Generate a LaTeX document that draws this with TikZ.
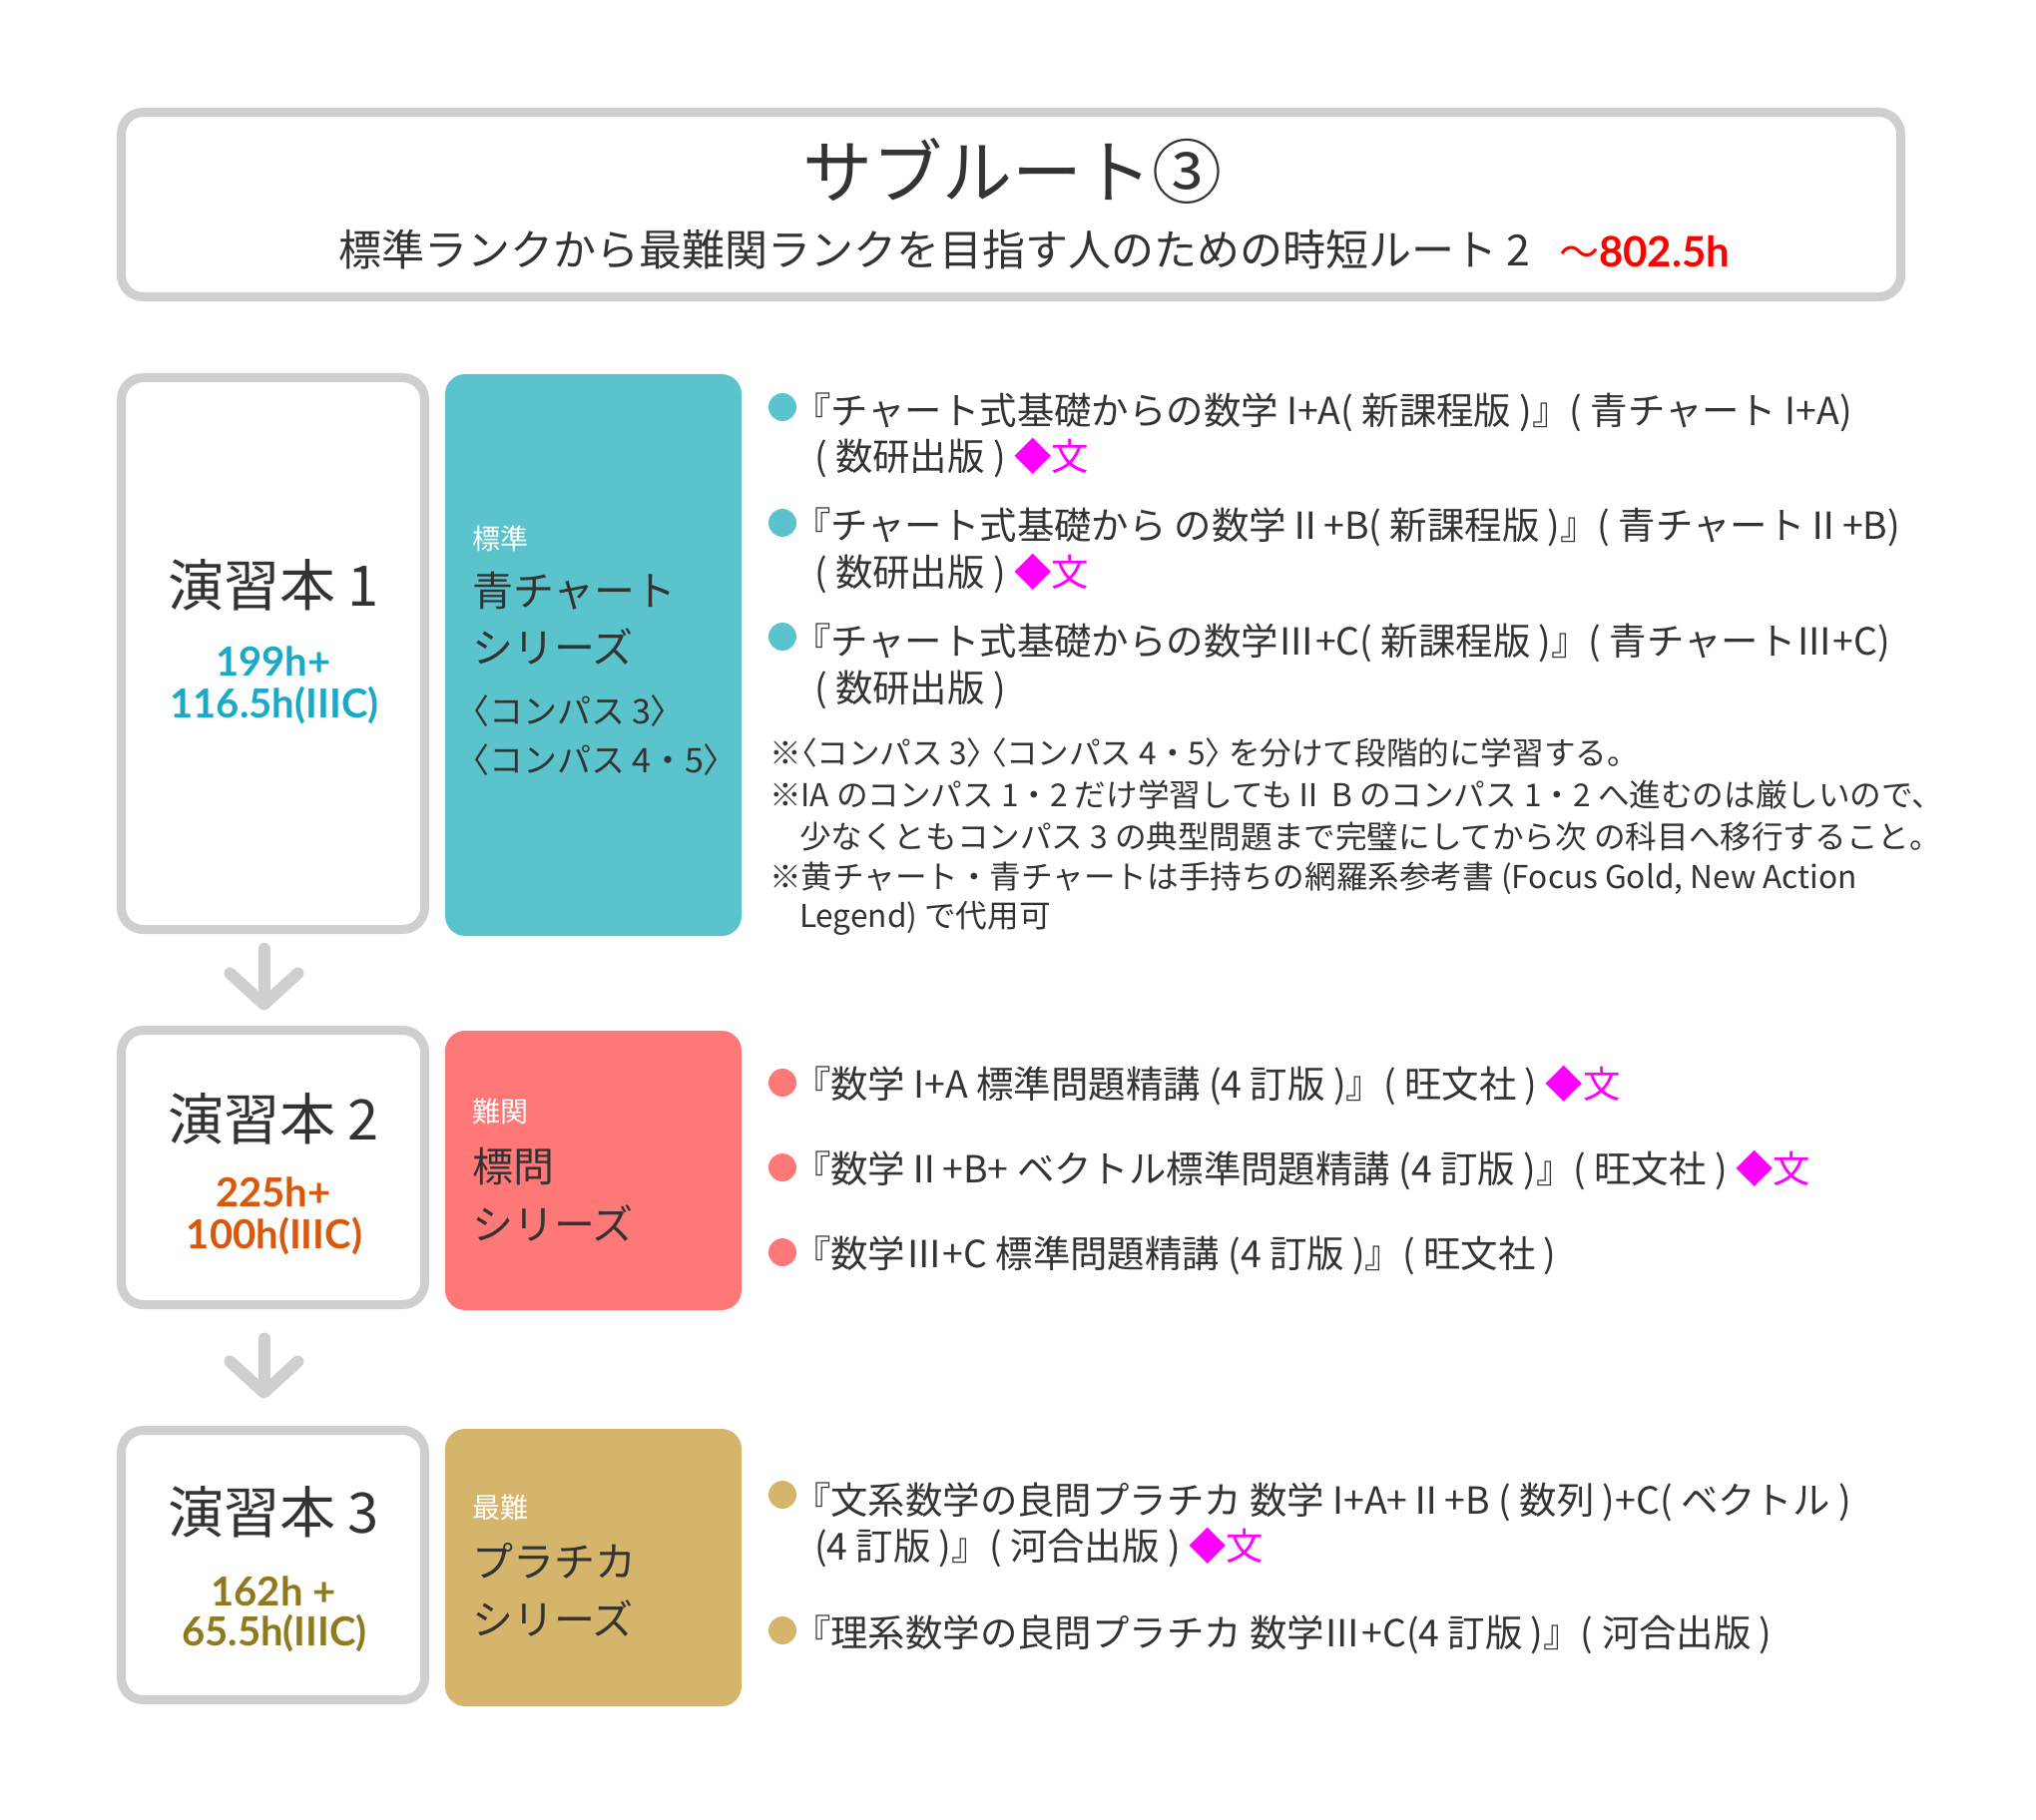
\documentclass[tikz,border=0pt]{standalone}
\usepackage{fontspec}
\setmainfont{Noto Sans CJK JP}
\newfontfamily\latofont{Lato}
\usetikzlibrary{arrows.meta}
\definecolor{gb}{HTML}{CFCFCF}
\definecolor{tx}{HTML}{333333}
\definecolor{tealbox}{HTML}{5BC3CB}
\definecolor{salbox}{HTML}{FF7878}
\definecolor{goldbox}{HTML}{D5B56C}
\definecolor{hteal}{HTML}{1AAAC8}
\definecolor{horange}{HTML}{D9580B}
\definecolor{holive}{HTML}{8F7B1E}
\definecolor{magen}{HTML}{FF00FF}
\definecolor{redh}{HTML}{FF0000}
\newcommand\fsz[1]{\fontsize{#1}{#1}\selectfont}
\newcommand\hb[1]{{\addfontfeature{RawFeature=+palt}#1}}
\newcommand\hrs[1]{{\fsz{20pt}\latofont\bfseries #1}}
\begin{document}
\begin{tikzpicture}[x=0.5pt,y=-0.5pt,
  gbox/.style={draw=gb, line width=4.5pt, rounded corners=11pt, fill=white, inner sep=0pt, outer sep=0pt, minimum width=152pt},
  cbox/.style={rounded corners=10pt, inner sep=0pt, outer sep=0pt, minimum width=148.5pt},
  t/.style={inner sep=0pt, outer sep=0pt, text=tx, anchor=west},
  tc/.style={inner sep=0pt, outer sep=0pt, text=tx, anchor=center},
  bul/.style={circle, inner sep=0pt, outer sep=0pt, minimum size=14pt},
  arr/.style={draw=gb, line width=6pt, line cap=round, -{Straight Barb[round, length=15.5pt, width=34pt]}},
  bt/.style={t, font=\fsz{18.7pt}},
  nt/.style={t, font=\fsz{15.8pt}}
]
\fill[white] (0,0) rectangle (2040,1824);
\useasboundingbox (0,0) rectangle (2040,1824);

% title box
\node[gbox, minimum width=891.5pt, minimum height=92.5pt] (tbox) at (1013,205) {};
\node[tc] (title) at (1014,172) {\fsz{35pt}サブルート③};
\node[t] (sub) at (339,250) {\fsz{21.5pt}標準ランクから最難関ランクを目指す人のための時短ルート 2};
\node[t, text=redh] (tot) at (1562,252) {\fsz{20pt}～{\fsz{21pt}\latofont\bfseries 802.5h}};

% row 1
\node[gbox, minimum height=276.5pt] (b1) at (273.5,655) {};
\node[cbox, fill=tealbox, minimum height=281.5pt] (c1) at (594.5,656.5) {};
\node[tc] (b1t) at (274,586) {\fsz{28pt}演習本 1};
\node[tc, text=hteal] (b1h1) at (274,663) {\hrs{199h+}};
\node[tc, text=hteal] (b1h2) at (275,707) {\hrs{116.5h(IIIC)}};
\node[t, text=white] (c1s) at (473,540) {\fsz{14pt}標準};
\node[t] (c1a) at (473,592) {\fsz{20.5pt}青チャート};
\node[t] (c1b) at (473,648) {\fsz{20.5pt}シリーズ};
\node[t] (c1c) at (473,713) {\fsz{17pt}\hb{〈}コンパス 3\hb{〉}};
\node[t] (c1d) at (473,762) {\fsz{17pt}\hb{〈}コンパス 4・5\hb{〉}};

\node[bul, fill=tealbox] (p1) at (784,408) {};
\node[bt] (p1a) at (795,413) {『チャート式基礎からの数学 I+A( 新課程版 )』( 青チャート I+A)};
\node[bt] (p1b) at (816,459) {( 数研出版 ) \textcolor{magen}{◆文}};
\node[bul, fill=tealbox] (p2) at (784,524) {};
\node[bt] (p2a) at (795,528) {『チャート式基礎から の数学Ⅱ+B( 新課程版 )』( 青チャートⅡ+B)};
\node[bt] (p2b) at (816,575) {( 数研出版 ) \textcolor{magen}{◆文}};
\node[bul, fill=tealbox] (p3) at (784,638) {};
\node[bt] (p3a) at (795,644) {『チャート式基礎からの数学Ⅲ+C( 新課程版 )』( 青チャートⅢ+C)};
\node[bt] (p3b) at (816,691) {( 数研出版 )};

\node[nt] (n1) at (771,754) {※\hb{〈}コンパス 3\hb{〉} \hb{〈}コンパス 4・5\hb{〉} を分けて段階的に学習する。};
\node[nt] (n2) at (771,796) {※IA のコンパス 1・2 だけ学習してもⅡ B のコンパス 1・2 へ進むのは厳しいので、};
\node[nt] (n3) at (801,838) {少なくともコンパス 3 の典型問題まで完璧にしてから次 の科目へ移行すること。};
\node[nt] (n4) at (771,880) {※黄チャート・青チャートは手持ちの網羅系参考書 (Focus Gold, New Action};
\node[nt] (n5) at (801,920) {Legend) で代用可};

% row 2
\node[gbox, minimum height=137.5pt] (b2) at (273.5,1170) {};
\node[cbox, fill=salbox, minimum height=140pt] (c2) at (594.5,1173) {};
\node[tc] (b2t) at (274,1121) {\fsz{28pt}演習本 2};
\node[tc, text=horange] (b2h1) at (274,1195) {\hrs{225h+}};
\node[tc, text=horange] (b2h2) at (275,1239) {\hrs{100h(IIIC)}};
\node[t, text=white] (c2s) at (473,1114) {\fsz{14pt}難関};
\node[t] (c2a) at (473,1169) {\fsz{20.5pt}標問};
\node[t] (c2b) at (473,1226) {\fsz{20.5pt}シリーズ};

\node[bul, fill=salbox] (q1) at (784,1085) {};
\node[bt] (q1a) at (795,1088) {『数学 I+A 標準問題精講 (4 訂版 )』( 旺文社 ) \textcolor{magen}{◆文}};
\node[bul, fill=salbox] (q2) at (784,1170) {};
\node[bt] (q2a) at (795,1173) {『数学Ⅱ+B+ ベクトル標準問題精講 (4 訂版 )』( 旺文社 ) \textcolor{magen}{◆文}};
\node[bul, fill=salbox] (q3) at (784,1255) {};
\node[bt] (q3a) at (795,1258) {『数学Ⅲ+C 標準問題精講 (4 訂版 )』( 旺文社 )};

% row 3
\node[gbox, minimum height=135pt] (b3) at (273.5,1568.5) {};
\node[cbox, fill=goldbox, minimum height=139pt] (c3) at (594.5,1571) {};
\node[tc] (b3t) at (274,1515) {\fsz{28pt}演習本 3};
\node[tc, text=holive] (b3h1) at (274,1595) {\hrs{162h +}};
\node[tc, text=holive] (b3h2) at (275,1637) {\hrs{65.5h(IIIC)}};
\node[t, text=white] (c3s) at (473,1511) {\fsz{14pt}最難};
\node[t] (c3a) at (473,1564) {\fsz{20.5pt}プラチカ};
\node[t] (c3b) at (473,1622) {\fsz{20.5pt}シリーズ};

\node[bul, fill=goldbox] (r1) at (784,1498) {};
\node[bt] (r1a) at (795,1505) {『文系数学の良問プラチカ 数学 I+A+Ⅱ+B ( 数列 )+C( ベクトル )};
\node[bt] (r1b) at (816,1551) {(4 訂版 )』( 河合出版 ) \textcolor{magen}{◆文}};
\node[bul, fill=goldbox] (r2) at (784,1634) {};
\node[bt] (r2a) at (795,1638) {『理系数学の良問プラチカ 数学Ⅲ+C(4 訂版 )』( 河合出版 )};

% arrows
\draw[arr, shorten <=9.75pt, shorten >=10pt] ([xshift=-4.5pt]b1.south) -- ([xshift=-4.5pt]b2.north);
\draw[arr, shorten <=17pt, shorten >=16pt] ([xshift=-4.5pt]b2.south) -- ([xshift=-4.5pt]b3.north);
\end{tikzpicture}
\end{document}
